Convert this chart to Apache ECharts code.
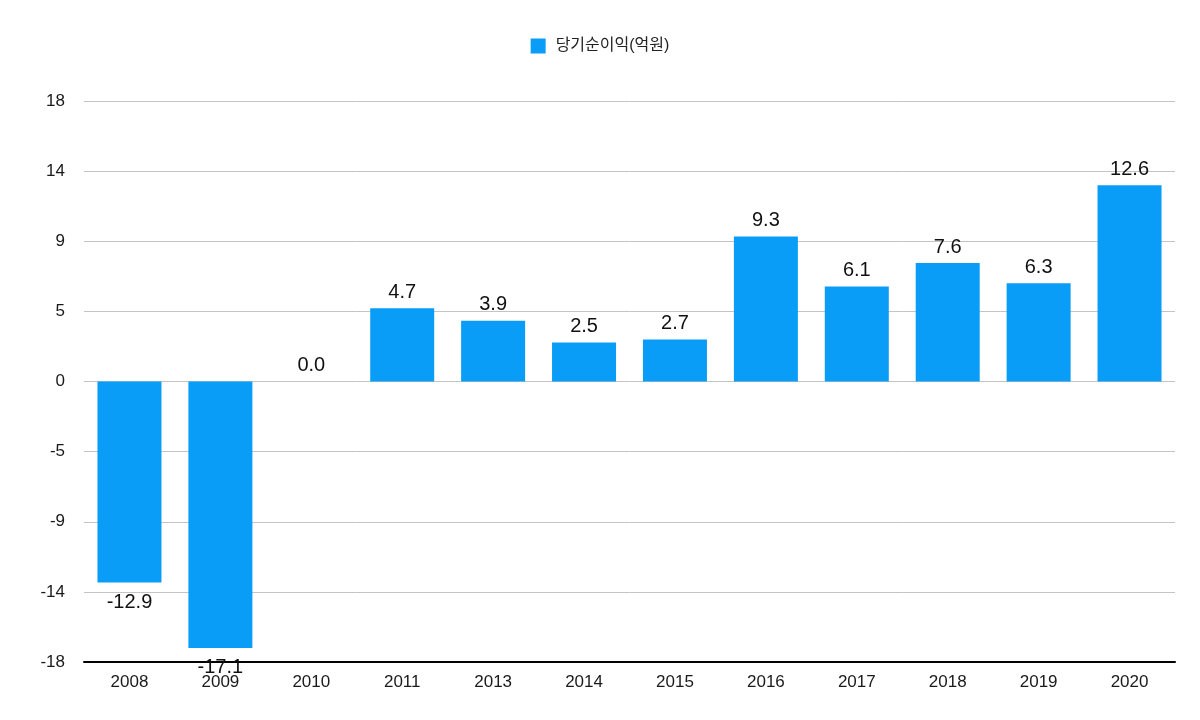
<!DOCTYPE html>
<html>
<head>
<meta charset="utf-8">
<script src="https://cdn.jsdelivr.net/npm/echarts@6/dist/echarts.min.js"></script>
<style>
html,body{margin:0;padding:0;background:#fff;}
#c{width:1200px;height:720px;}
</style>
</head>
<body>
<div id="c"></div>
<script>
const categories = ['2008','2009','2010','2011','2013','2014','2015','2016','2017','2018','2019','2020'];
const netIncome = [-12.9, -17.1, 0.0, 4.7, 3.9, 2.5, 2.7, 9.3, 6.1, 7.6, 6.3, 12.6];
const seriesName = '당기순이익(억원)';
const yMin = -18, yMax = 18, yInterval = 4.5;

const chart = echarts.init(document.getElementById('c'));
const font = 'Helvetica, "Liberation Sans", Arial, "Noto Sans CJK KR", sans-serif';
chart.setOption({
  animation: false,
  textStyle: { fontFamily: font },
  legend: {
    top: 33, left: 'center',
    icon: 'rect', itemWidth: 15, itemHeight: 15, itemGap: 10,
    textStyle: { fontSize: 16, color: '#222', fontFamily: font, padding: [0, 0, 0, 5] },
    data: [seriesName]
  },
  grid: { left: 84, right: 25, top: 101, bottom: 58, containLabel: false },
  xAxis: {
    type: 'category', data: categories,
    axisLine: { onZero: false, lineStyle: { color: '#000', width: 2 } },
    axisTick: { show: false },
    axisLabel: { fontSize: 17, color: '#1a1a1a', margin: 12, fontFamily: font }
  },
  yAxis: {
    type: 'value', min: yMin, max: yMax, interval: yInterval,
    axisLine: { show: false }, axisTick: { show: false },
    splitLine: { lineStyle: { color: '#c4c4c4', width: 1 } },
    axisLabel: {
      fontSize: 17, color: '#1a1a1a', margin: 19, fontFamily: font,
      formatter: v => String(Math.sign(v) * Math.round(Math.abs(v)))
    }
  },
  series: [{
    name: seriesName, type: 'bar', barWidth: 64,
    itemStyle: { color: '#0A9DF7' },
    data: netIncome.map(v => ({
      value: v,
      label: v < 0 ? { position: 'bottom', distance: 10 } : { position: 'top', distance: 6 }
    })),
    label: {
      show: true, fontSize: 20, color: '#111', fontFamily: font,
      formatter: p => p.value.toFixed(1)
    }
  }]
});
</script>
</body>
</html>
